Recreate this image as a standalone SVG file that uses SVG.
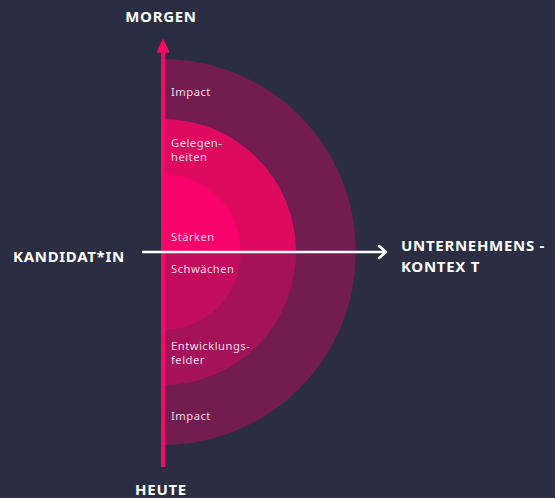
<svg xmlns="http://www.w3.org/2000/svg" width="555" height="498" viewBox="0 0 555 498">
<defs>
<style>
.lbl{font-family:"Noto Sans","Liberation Sans",sans-serif;font-size:11.2px;letter-spacing:0.5px;fill:#f3dbe6}
.big{font-family:"Noto Sans","Liberation Sans",sans-serif;font-size:15px;letter-spacing:0.7px;font-weight:bold;fill:#ffffff}
</style>
</defs>
<rect width="555" height="498" fill="#2b2e43"/>
<g id="outer">
<path d="M163,59 A193,193 0 0 1 163,445 Z" fill="#721c4f"/>
</g>
<g id="middle">
<path d="M163,119 A133,133 0 0 1 296,252 L163,252 Z" fill="#de0a60"/>
<path d="M163,385 A133,133 0 0 0 296,252 L163,252 Z" fill="#a5125a"/>
</g>
<g id="inner">
<path d="M163,174 A78,78 0 0 1 241,252 L163,252 Z" fill="#f7016a"/>
<path d="M163,330 A78,78 0 0 0 241,252 L163,252 Z" fill="#c20d5d"/>
</g>
<g id="connectors">
<line x1="163" y1="467" x2="163" y2="50" stroke="#f50a66" stroke-width="4"/>
<path d="M157.5,52 L163,40 L168.5,52 Z" fill="#f50a66" stroke="#f50a66" stroke-width="1.5" stroke-linejoin="round"/>
<line x1="142" y1="252" x2="386" y2="252" stroke="#ffffff" stroke-width="2.5"/>
<path d="M379,246 L386,252 L379,258" fill="none" stroke="#ffffff" stroke-width="2.5" stroke-linecap="round" stroke-linejoin="round"/>
</g>
<g id="labels">
<text class="lbl" x="171" y="96">Impact</text>
<text class="lbl" x="171" y="147">Gelegen-</text>
<text class="lbl" x="171" y="161">heiten</text>
<text class="lbl" x="171" y="241">Stärken</text>
<text class="lbl" x="171" y="273">Schwächen</text>
<text class="lbl" x="171" y="350">Entwicklungs-</text>
<text class="lbl" x="171" y="364">felder</text>
<text class="lbl" x="171" y="420">Impact</text>
</g>
<g id="axis-labels">
<text class="big" x="161" y="22" text-anchor="middle">MORGEN</text>
<text class="big" x="161" y="495" text-anchor="middle">HEUTE</text>
<text class="big" x="13" y="262">KANDIDAT*IN</text>
<text class="big" x="401" y="251">UNTERNEHMENS -</text>
<text class="big" x="401" y="272">KONTEX T</text>
</g>
</svg>
